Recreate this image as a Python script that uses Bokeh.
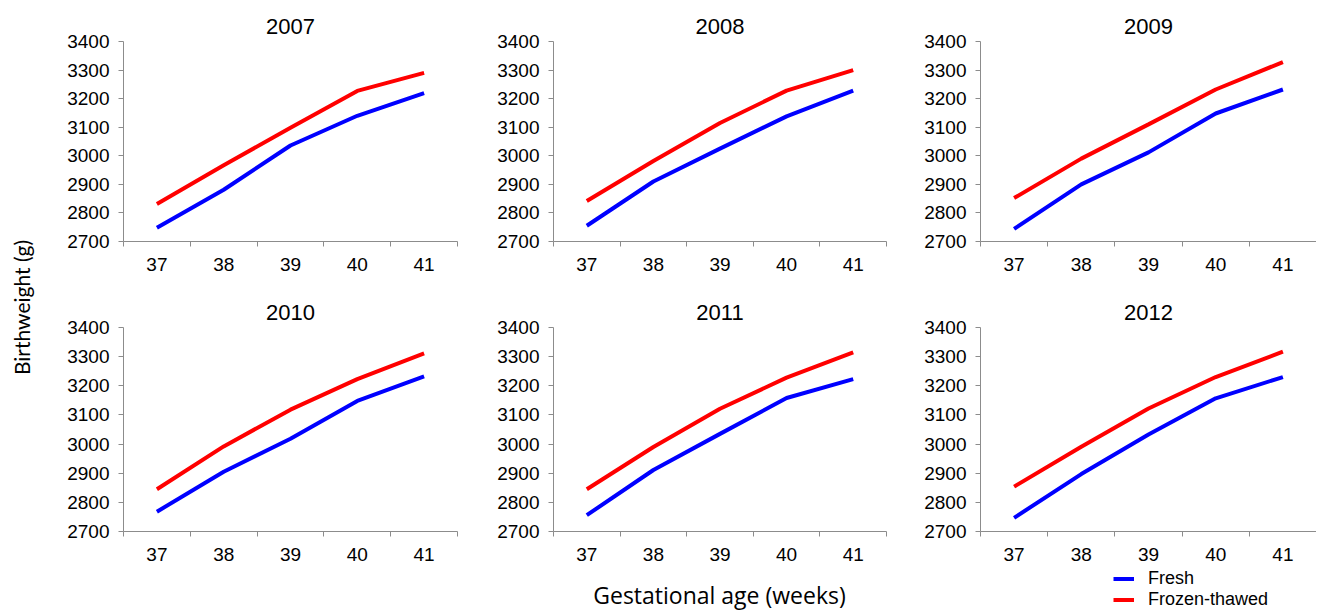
from math import pi
from bokeh.plotting import figure
from bokeh.layouts import row, column
from bokeh.models import Range1d, FixedTicker, Label, Legend, LegendItem
from bokeh.embed import file_html
from bokeh.resources import INLINE

weeks = [37, 38, 39, 40, 41]
years = ["2007", "2008", "2009", "2010", "2011", "2012"]

fresh_2007 = [2748, 2881, 3036, 3140, 3219]
frozen_2007 = [2831, 2967, 3098, 3227, 3290]
fresh_2008 = [2755, 2910, 3025, 3138, 3228]
frozen_2008 = [2842, 2982, 3115, 3228, 3300]
fresh_2009 = [2744, 2900, 3012, 3148, 3232]
frozen_2009 = [2852, 2990, 3110, 3232, 3328]
fresh_2010 = [2768, 2905, 3018, 3148, 3232]
frozen_2010 = [2845, 2992, 3118, 3223, 3311]
fresh_2011 = [2756, 2911, 3035, 3158, 3223]
frozen_2011 = [2845, 2990, 3121, 3228, 3315]
fresh_2012 = [2747, 2897, 3033, 3157, 3230]
frozen_2012 = [2854, 2991, 3122, 3230, 3317]

y_ticks = [2700, 2800, 2900, 3000, 3100, 3200, 3300, 3400]
series_names = ["Fresh", "Frozen-thawed"]
series_colors = ["#0000FF", "#FF0000"]

fresh = [fresh_2007, fresh_2008, fresh_2009, fresh_2010, fresh_2011, fresh_2012]
frozen = [frozen_2007, frozen_2008, frozen_2009, frozen_2010, frozen_2011, frozen_2012]

AXIS_COLOR = "#8c8c8c"
TICK_FONT = "Liberation Sans"

left_w = 50
col_mbl = [73, 60, 60]
col_fw = [334, 333, 336]
col_mbr = [36, 34, 0]
row_mbt = [41, 39]
row_fh = [200, 204]
row_mbb = [47, 37]

boundaries = [w - 0.5 for w in weeks] + [weeks[-1] + 0.5]


def make_panel(i):
    r, c = divmod(i, 3)
    p = figure(
        width=col_mbl[c] + col_fw[c] + col_mbr[c],
        height=row_mbt[r] + row_fh[r] + row_mbb[r],
        min_border_left=col_mbl[c], min_border_right=col_mbr[c],
        min_border_top=row_mbt[r], min_border_bottom=row_mbb[r],
        x_range=Range1d(boundaries[0], boundaries[-1]),
        y_range=Range1d(y_ticks[0], y_ticks[-1]),
        output_backend="svg", toolbar_location=None, tools="",
        title=years[i],
    )
    p.outline_line_color = None
    p.xgrid.visible = False
    p.ygrid.visible = False
    p.title.align = "center"
    p.title.text_font = TICK_FONT
    p.title.text_font_size = "22px"
    p.title.text_font_style = "normal"
    p.title.text_color = "black"
    p.title.standoff = 16

    xa = p.xaxis[0]
    xa.ticker = FixedTicker(ticks=weeks, minor_ticks=boundaries)
    xa.major_tick_line_color = None
    xa.major_tick_out = 0
    xa.major_tick_in = 0
    xa.minor_tick_line_color = AXIS_COLOR
    xa.minor_tick_out = 5
    xa.minor_tick_in = 0
    xa.axis_line_color = AXIS_COLOR
    xa.major_label_standoff = 11
    xa.major_label_text_font = TICK_FONT
    xa.major_label_text_font_size = "19px"
    xa.major_label_text_color = "black"

    ya = p.yaxis[0]
    ya.ticker = FixedTicker(ticks=y_ticks)
    ya.major_tick_line_color = AXIS_COLOR
    ya.major_tick_out = 5
    ya.major_tick_in = 0
    ya.minor_tick_line_color = None
    ya.axis_line_color = AXIS_COLOR
    ya.major_label_standoff = 9
    ya.major_label_text_font = TICK_FONT
    ya.major_label_text_font_size = "19px"
    ya.major_label_text_color = "black"

    p.line(weeks, fresh[i], line_color=series_colors[0], line_width=4)
    p.line(weeks, frozen[i], line_color=series_colors[1], line_width=4)
    return p


panels = [make_panel(i) for i in range(6)]

row1_h = row_mbt[0] + row_fh[0] + row_mbb[0]
row2_h = row_mbt[1] + row_fh[1] + row_mbb[1]
left_h = row1_h + row2_h

left = figure(width=left_w, height=left_h, x_range=Range1d(0, left_w), y_range=Range1d(0, left_h),
              min_border=0, x_axis_type=None, y_axis_type=None,
              output_backend="svg", toolbar_location=None, tools="")
left.outline_line_color = None
left.xgrid.visible = False
left.ygrid.visible = False
left.add_layout(Label(x=21, y=left_h - 307, text="Birthweight (g)", angle=pi / 2,
                      text_align="center", text_baseline="middle",
                      text_font="Lato", text_font_size="21px", text_color="black"))

total_w = left_w + sum(col_mbl) + sum(col_fw) + sum(col_mbr)
bottom_h = 612 - left_h
bottom = figure(width=total_w, height=bottom_h, x_range=Range1d(0, total_w), y_range=Range1d(0, bottom_h),
                min_border=0, x_axis_type=None, y_axis_type=None,
                output_backend="svg", toolbar_location=None, tools="")
bottom.outline_line_color = None
bottom.xgrid.visible = False
bottom.ygrid.visible = False
bottom.add_layout(Label(x=719, y=18, text="Gestational age (weeks)",
                        text_align="center", text_baseline="middle",
                        text_font="Open Sans", text_font_size="23px", text_color="black"))
# legend swatch renderers (data lies outside this strip's ranges, so only the legend shows)
rf = bottom.line(weeks, fresh_2007, line_color=series_colors[0], line_width=4)
rz = bottom.line(weeks, frozen_2007, line_color=series_colors[1], line_width=4)
legend = Legend(items=[LegendItem(label=series_names[0], renderers=[rf]),
                       LegendItem(label=series_names[1], renderers=[rz])],
                location=(1113, 2), orientation="vertical",
                padding=0, spacing=0, margin=0,
                glyph_width=21, glyph_height=19, label_height=19,
                label_standoff=14, label_text_font=TICK_FONT, label_text_font_size="18px",
                label_text_color="black", border_line_color=None, background_fill_alpha=0)
bottom.add_layout(legend)

grid = column(row(*panels[:3]), row(*panels[3:]))
layout = column(row(left, grid), bottom)

open("out.html", "w").write(file_html(layout, INLINE))
